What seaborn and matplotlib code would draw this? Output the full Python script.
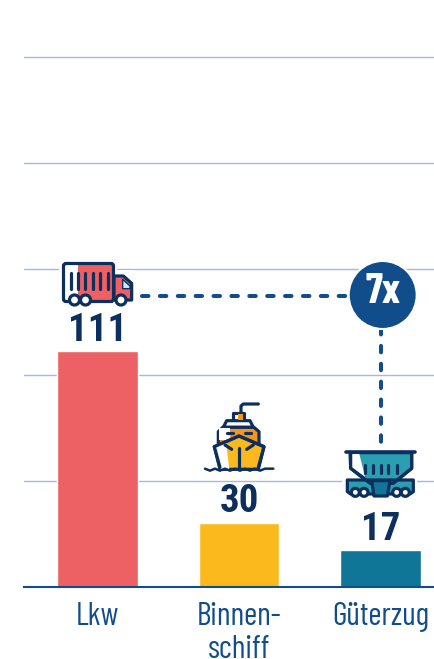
import matplotlib
matplotlib.use('Agg')
import matplotlib.pyplot as plt
from matplotlib.patches import Circle, Polygon, Rectangle, FancyBboxPatch
import pandas as pd
import seaborn as sns

categories = ['Lkw', 'Binnen-\nschiff', 'Güterzug']
values = [111, 30, 17]
bar_colors = ['#ed6063', '#fcb91d', '#107697']
y_ticks = [50, 100, 150, 200, 250]

NAVY = '#0d2f5e'
BLUE = '#114d8b'
TEAL = '#2a9fb0'

sns.set_theme(style='white')
plt.rcParams['font.family'] = ['Barlow Condensed', 'Roboto', 'DejaVu Sans']

W, H = 434, 659
fig = plt.figure(figsize=(W / 100, H / 100), dpi=100)
ax = fig.add_axes([24 / W, (H - 586.5) / H, 410 / W, 546.5 / H])

df = pd.DataFrame({'cat': categories, 'val': values})
sns.barplot(data=df, x='cat', y='val', hue='cat', palette=bar_colors, width=0.57,
            saturation=1, legend=False, ax=ax, zorder=3)
ax.set_xlim(-0.520, 2.378)
ax.set_ylim(0, 546.5 / 2.118)
ax.set_xlabel('')
ax.set_ylabel('')
ax.set_yticks(y_ticks)
ax.set_yticklabels([])
ax.yaxis.grid(True, color='#a0bcdb', lw=1)
ax.set_axisbelow(True)
for s in ['top', 'left', 'right']:
    ax.spines[s].set_visible(False)
ax.spines['bottom'].set_color(BLUE)
ax.spines['bottom'].set_linewidth(1.5)
ax.spines['bottom'].set_zorder(4)
ax.tick_params(axis='x', length=0, pad=11, labelsize=23, labelcolor=BLUE)
ax.tick_params(axis='y', length=0)
for t in ax.get_xticklabels():
    t.set_linespacing(1.12)
for c in ax.containers:
    ax.bar_label(c, padding=2, fontsize=28, fontweight='bold', color=NAVY,
                 family=['Roboto Condensed', 'Barlow Semi Condensed', 'DejaVu Sans'])

# overlay in pixel coordinates for the icons and connector
ov = fig.add_axes([0, 0, 1, 1], zorder=5)
ov.set_xlim(0, W)
ov.set_ylim(H, 0)
ov.axis('off')
LW = 2.3


def poly(pts, ox, oy, fc='none', ec=NAVY, lw=LW, closed=True, z=5):
    pts = [(ox + x / 3, oy + y / 3) for x, y in pts]
    ov.add_patch(Polygon(pts, closed=closed, fc=fc, ec=ec, lw=lw, zorder=z, joinstyle='round', capstyle='round'))


def line(pts, ox, oy, color=NAVY, lw=LW, z=6):
    ov.plot([ox + p[0] / 3 for p in pts], [oy + p[1] / 3 for p in pts], color=color, lw=lw,
            solid_capstyle='round', solid_joinstyle='round', zorder=z)


def wheel(x, y, r, z=7):
    ov.add_patch(Circle((x, y), r, fc='white', ec=NAVY, lw=LW, zorder=z))


# connector
dash = (0, (1.6, 2.84))
ov.plot([141.5, 352], [295.5, 295.5], color=BLUE, lw=2.9, ls=dash, dash_capstyle='round', zorder=2)
ov.plot([381, 381], [328.4, 448], color=BLUE, lw=2.9, ls=dash, dash_capstyle='round', zorder=2)
ov.add_patch(Circle((382.7, 295), 34, fc=BLUE, ec='white', lw=1.5, zorder=3))
ov.text(382.7, 292, '7x', color='white', fontsize=30, fontweight='bold', ha='center', va='center', zorder=4)

# truck
ox, oy = 40, 250
ov.add_patch(Rectangle((59, 260), 58, 44, fc='white', ec='none', zorder=1))
ov.add_patch(Rectangle((117, 270), 17, 36, fc='white', ec='none', zorder=1))
ov.add_patch(Rectangle((ox + 115 / 3, oy + 40 / 3), 107 / 3, 112 / 3, fc=bar_colors[0], ec='none', zorder=4))
poly([(222, 78), (250, 78), (275, 100), (275, 150), (222, 150)], ox, oy, fc=bar_colors[0])
poly([(248, 88), (270, 108), (270, 116), (248, 116)], ox, oy, fc='#cde9f3', lw=1)
ov.add_patch(FancyBboxPatch((63.5, 263.5), 50, 38, boxstyle='round,pad=0,rounding_size=2.5', fc='none', ec=NAVY, lw=LW, zorder=5))
for x in [93, 114, 136, 158, 180, 203]:
    line([(x, 70), (x, 116)], ox, oy)
wheel(74.5, 300, 5)
wheel(85.5, 300, 5)
wheel(121, 300, 5)

# ship
ox, oy = 190, 390
line([(153, 68), (153, 48), (160, 42), (205, 42)], ox, oy)
poly([(128, 70), (162, 70), (162, 92), (128, 92)], ox, oy, fc='white')
ov.add_patch(Rectangle((ox + 145 / 3, oy + 72 / 3), 15 / 3, 18 / 3, fc='#f7941d', ec='none', zorder=6))
poly([(110, 92), (180, 92), (190, 112), (100, 112)], ox, oy, fc='white')
poly([(85, 125), (98, 112), (192, 112), (207, 125), (207, 170), (85, 170)], ox, oy, fc='#f7941d')
ov.add_patch(Rectangle((ox + 88 / 3, oy + 114 / 3), 32 / 3, 36 / 3, fc='white', ec='none', zorder=5))
poly([(73, 170), (147, 138), (222, 170), (205, 238), (90, 238)], ox, oy, fc=bar_colors[1])
poly([(75, 172), (108, 158), (118, 238), (92, 238)], ox, oy, fc='white', ec='none', z=6)
line([(73, 170), (147, 138), (222, 170), (205, 232)], ox, oy, z=7)
line([(73, 170), (90, 232)], ox, oy, z=7)
line([(147, 175), (147, 238)], ox, oy, z=7)
line([(105, 165), (125, 178)], ox, oy, z=7)
line([(190, 165), (170, 178)], ox, oy, z=7)
line([(112, 130), (130, 130)], ox, oy, z=7)
line([(165, 130), (182, 130)], ox, oy, z=7)
line([(45, 236), (60, 242), (75, 236), (90, 242), (105, 236), (120, 242), (135, 236), (150, 242),
      (165, 236), (180, 242), (195, 236), (210, 242), (225, 236), (250, 236)], ox, oy, lw=1.8, z=8)

# train
ox, oy = 330, 260
ov.add_patch(Rectangle((342, 470), 75, 30, fc='white', ec='none', zorder=1))
poly([(60, 578), (245, 578), (245, 625), (190, 670), (120, 670), (62, 625)], ox, oy, fc=TEAL)
poly([(66, 582), (88, 582), (105, 650), (66, 622)], ox, oy, fc='white', ec='none', z=6)
line([(48, 575), (255, 575)], ox, oy, lw=2.6, z=7)
line([(62, 578), (62, 625), (120, 670), (190, 670), (245, 625), (245, 578)], ox, oy, z=7)
for x in [105, 128, 152, 175, 200]:
    line([(x, 615), (x, 638)], ox, oy, z=7)
poly([(52, 660), (250, 660), (250, 695), (240, 702), (62, 702), (52, 695)], ox, oy, fc=TEAL, z=5)
poly([(125, 662), (180, 662), (172, 708), (132, 708)], ox, oy, fc=bar_colors[2], z=7)
for x in [76, 102, 200, 226]:
    wheel(ox + x / 3, oy + 697 / 3, 4)

fig.savefig('out.png', dpi=100)
